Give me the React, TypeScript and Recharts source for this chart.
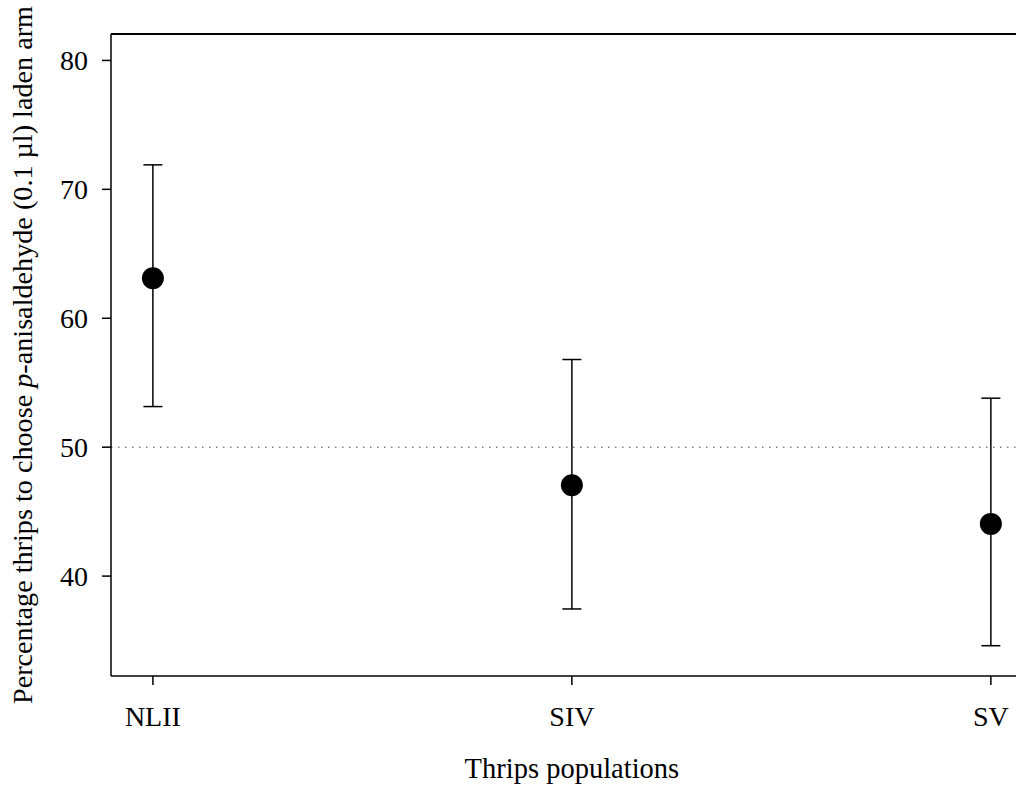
import { ComposedChart, ErrorBar, ReferenceLine, Scatter, XAxis, YAxis } from "recharts";

const populations = ["NLII", "SIV", "SV"];
const meanPct = [63.1, 47.05, 44.05];
const upperPct = [71.9, 56.8, 53.8];
const lowerPct = [53.15, 37.45, 34.6];
const yTicks = [40, 50, 60, 70, 80];

const Y_MIN = 32.25;
const Y_MAX = 82.05;
const X_DOMAIN = [-0.1, 2.06];
const FONT = "'Liberation Serif', 'Times New Roman', serif";

const data = populations.map((name, i) => ({
  x: i,
  name,
  y: meanPct[i],
  err: [meanPct[i] - lowerPct[i], upperPct[i] - meanPct[i]],
}));

const tickStyle = { fill: "#000", fontSize: 28, fontFamily: FONT };

function YTitle({ viewBox }: any) {
  const cx = 32;
  const cy = viewBox.y + viewBox.height / 2;
  return (
    <text
      x={cx}
      y={cy}
      transform={`rotate(-90, ${cx}, ${cy})`}
      textAnchor="middle"
      fontSize={28.2}
      fontFamily={FONT}
      fill="#000"
    >
      Percentage thrips to choose <tspan fontStyle="italic">p</tspan>-anisaldehyde (0.1 µl) laden arm
    </text>
  );
}

function XTitle({ viewBox }: any) {
  // centred on the middle category
  const center = viewBox.x + (viewBox.width * (1 - X_DOMAIN[0])) / (X_DOMAIN[1] - X_DOMAIN[0]);
  return (
    <text x={center} y={viewBox.y + 102} textAnchor="middle" fontSize={28.5} fontFamily={FONT} fill="#000">
      Thrips populations
    </text>
  );
}

export default function App() {
  return (
    <div style={{ position: "fixed", left: 0, top: 0, width: 1020, height: 785, background: "#fff" }}>
      <ComposedChart width={1020} height={785} data={data} margin={{ top: 34, right: 4, bottom: 0, left: 0 }}>
        <XAxis
          dataKey="x"
          type="number"
          domain={X_DOMAIN}
          ticks={[0, 1, 2]}
          tickFormatter={(v: number) => populations[v] ?? ""}
          tick={tickStyle}
          tickSize={9}
          tickMargin={21}
          height={109}
          allowDataOverflow
          axisLine={{ stroke: "#000", strokeWidth: 1.5 }}
          tickLine={{ stroke: "#000", strokeWidth: 1.5 }}
          label={<XTitle />}
        />
        <YAxis
          type="number"
          domain={[Y_MIN, Y_MAX]}
          ticks={yTicks}
          tick={tickStyle}
          tickSize={9}
          tickMargin={14}
          width={111}
          allowDataOverflow
          axisLine={{ stroke: "#000", strokeWidth: 1.5 }}
          tickLine={{ stroke: "#000", strokeWidth: 1.5 }}
          label={<YTitle />}
        />
        <ReferenceLine y={Y_MAX} stroke="#000" strokeWidth={2} />
        <ReferenceLine y={50} stroke="#444" strokeWidth={1} strokeDasharray="1.5 5.5" />
        <Scatter
          dataKey="y"
          isAnimationActive={false}
          shape={(p: any) => <circle cx={p.cx} cy={p.cy} r={11} fill="#000" />}
        >
          <ErrorBar dataKey="err" direction="y" width={9.5} stroke="#000" strokeWidth={1.5} />
        </Scatter>
      </ComposedChart>
    </div>
  );
}
